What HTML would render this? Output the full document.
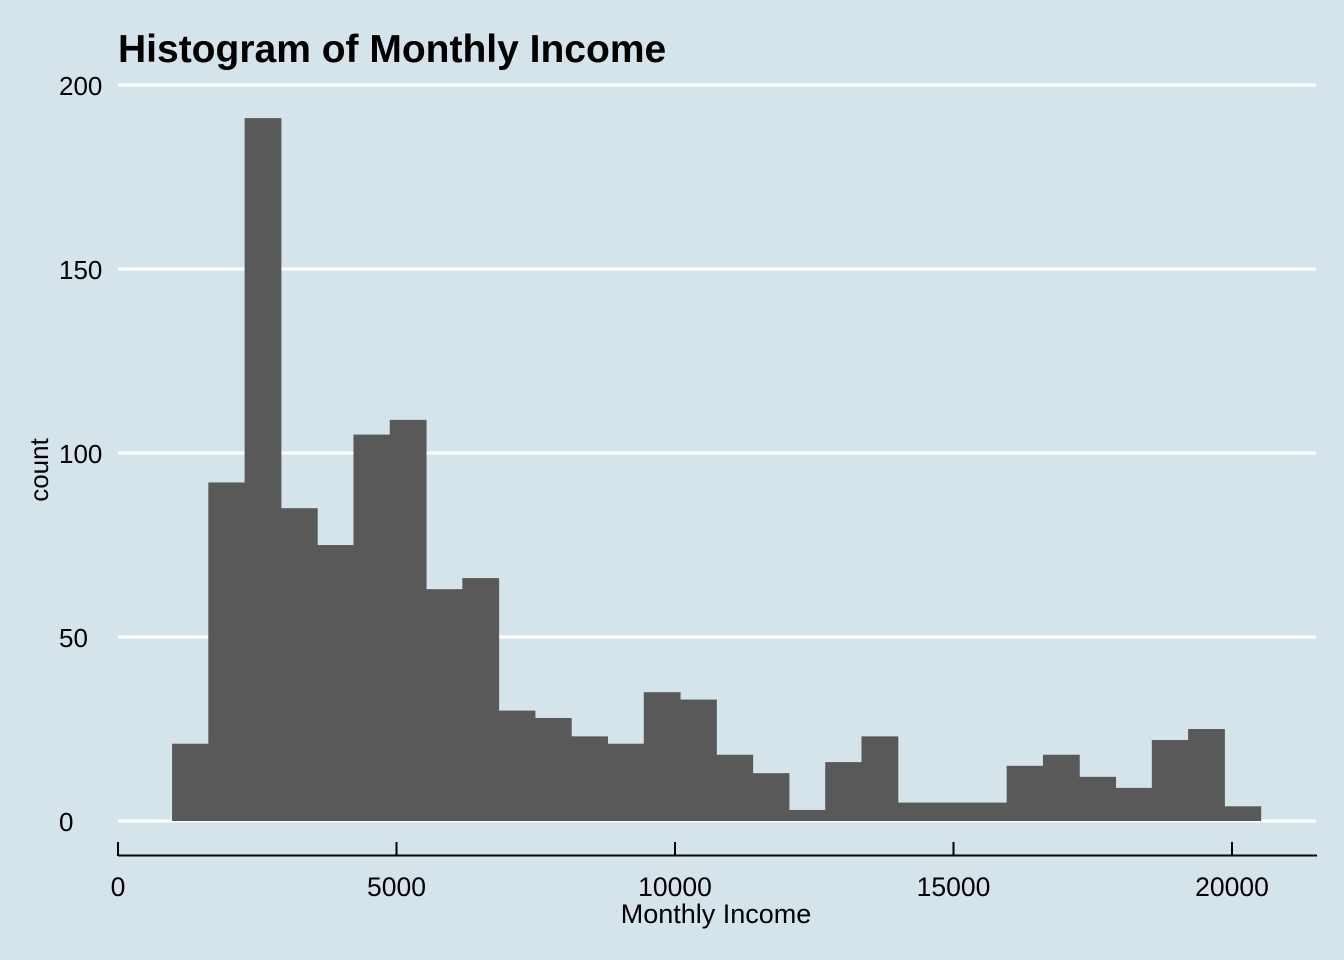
<!DOCTYPE html>
<html><head><meta charset="utf-8"><style>
html,body{margin:0;padding:0;background:#d5e4eb;}
svg{display:block;font-family:"Liberation Sans",Arial,sans-serif;}
</style></head><body>
<svg id="chart" width="1344" height="960">
<rect width="1344" height="960" fill="#d5e4eb"/>
<text x="118" y="62" font-size="39" font-weight="bold" fill="#000">Histogram of Monthly Income</text>
<g id="grid"></g><g id="bars"></g><g id="axes"></g>
<text x="716" y="923" font-size="27" text-anchor="middle" fill="#000">Monthly Income</text>
<text transform="translate(48,470) rotate(-90)" font-size="26" text-anchor="middle" fill="#000">count</text>
</svg>
<script>
const binStart = 970;
const binWidth = 651.5;
const counts = [21,92,191,85,75,105,109,63,66,30,28,23,21,35,33,18,13,3,16,23,5,5,5,15,18,12,9,22,25,4];
const yTicks = [0,50,100,150,200];
const xTicks = [0,5000,10000,15000,20000];

const NS='http://www.w3.org/2000/svg';
const x = v => 118 + v*(1232-118)/20000;
const y = v => 821 - v*(821-85)/200;
function mk(tag, attrs, parent){const e=document.createElementNS(NS,tag);for(const k in attrs)e.setAttribute(k,attrs[k]);document.getElementById(parent).appendChild(e);return e;}

yTicks.forEach(t=>{
  const l=mk('line',{x1:118,x2:1316,y1:y(t),y2:y(t),stroke:'#fff','stroke-width':3},'grid');
  
  
  const tx=mk('text',{x:59,y:y(t)+10,'font-size':26,fill:'#000'},'grid');
  tx.textContent=t;
  
  
});
counts.forEach((c,i)=>{
  const x0=x(binStart+i*binWidth), x1=x(binStart+(i+1)*binWidth);
  const r=mk('rect',{x:x0,y:y(c),width:x1-x0+0.5,height:y(0)-y(c),fill:'#595959'},'bars');
  
  
});
const ax=mk('line',{x1:118,x2:1317,y1:855.5,y2:855.5,stroke:'#000','stroke-width':2},'axes');


xTicks.forEach(t=>{
  const l=mk('line',{x1:x(t),x2:x(t),y1:842,y2:856,stroke:'#000','stroke-width':2},'axes');
  
  
  const tx=mk('text',{x:x(t),y:896,'font-size':26.5,'text-anchor':'middle',fill:'#000'},'axes');
  tx.textContent=t;
  
  
});
</script>
</body></html>
